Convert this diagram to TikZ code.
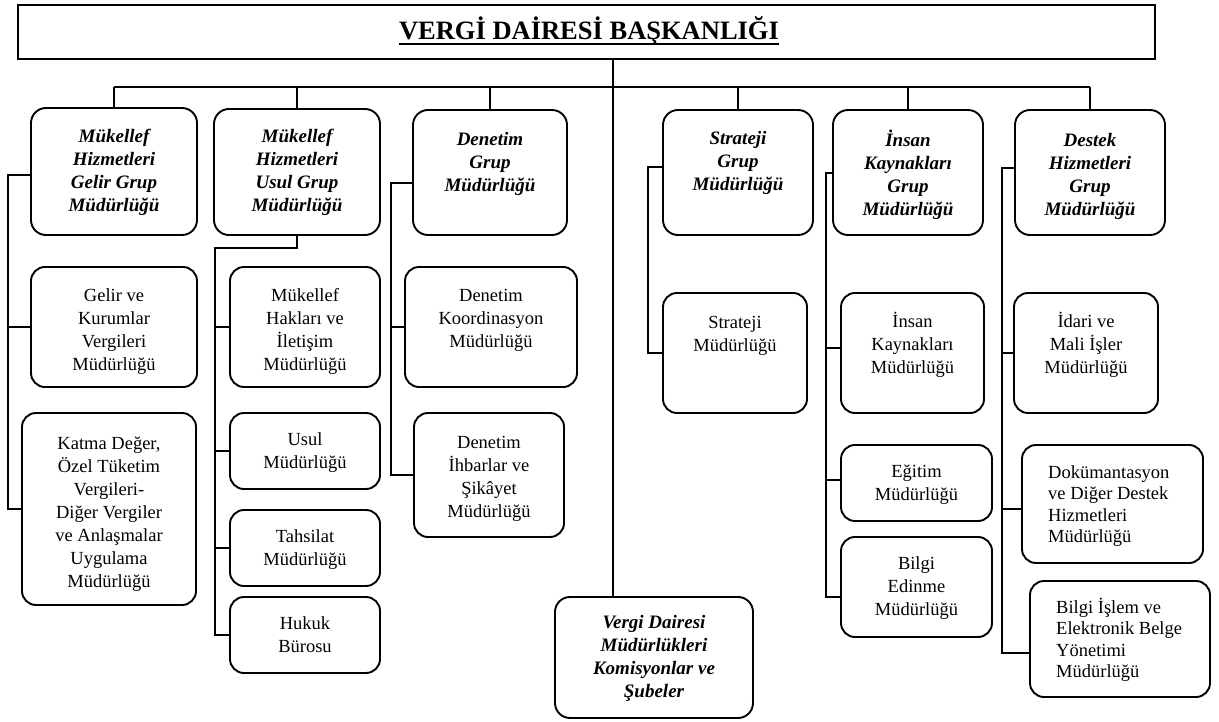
\documentclass[tikz,border=0pt]{standalone}
\usepackage{fontspec}
\setmainfont{Liberation Serif}
\usetikzlibrary{calc}
% fixed height for the first line of every label
\newcommand{\fl}{\rule{0pt}{18pt}}
% \bx{name}{style}{x1}{y1}{x2}{y2}: a framed box given by its corners
\newcommand{\bx}[6]{\node[#2, minimum width={#5pt-#3pt}, minimum height={#6pt-#4pt}] (#1) at ({(#3+#5)/2},{(#4+#6)/2}) {};}
\tikzset{
  ln/.style={line width=2pt},
  grp/.style={draw, line width=1.9pt, rounded corners=15pt, inner sep=0pt},
  sub/.style={draw, line width=1.9pt, rounded corners=14pt, inner sep=0pt},
  gtxt/.style={anchor=north, inner sep=0pt, align=center, font=\fontsize{19}{23}\selectfont\bfseries\itshape},
  stxt/.style={anchor=north, inner sep=0pt, align=center, font=\fontsize{18.5}{23}\selectfont},
  ltxt/.style={anchor=north west, inner sep=0pt, align=left, font=\fontsize{18.5}{21.5}\selectfont},
}
\begin{document}
\begin{tikzpicture}[x=1pt, y=-1pt]
\useasboundingbox[fill=white] (0,0) rectangle (1219,722);

% head office
\node[draw, line width=1.9pt, inner sep=0pt, minimum width=1137pt, minimum height=54pt] (title) at (586.5,32) {};
\node[anchor=base, inner sep=0pt, font=\fontsize{26.5}{30}\selectfont\bfseries] (tt) at (589,40) {VERGİ DAİRESİ BAŞKANLIĞI};
\draw[line width=1.7pt] ([yshift=-4pt]tt.base west) -- ([yshift=-4pt]tt.base east);

% group directorates
\bx{g1}{grp}{31}{108}{197}{235}
\bx{g2}{grp}{214}{109}{380}{235}
\bx{g3}{grp}{413}{110}{567}{235}
\bx{g4}{grp}{663}{110}{813}{235}
\bx{g5}{grp}{833}{110}{983}{235}
\bx{g6}{grp}{1015}{110}{1165}{235}
\node[gtxt] (g1t) at (114,124) {\fl Mükellef\\Hizmetleri\\Gelir Grup\\Müdürlüğü};
\node[gtxt] (g2t) at (297,124) {\fl Mükellef\\Hizmetleri\\Usul Grup\\Müdürlüğü};
\node[gtxt] (g3t) at (490,127) {\fl Denetim\\Grup\\Müdürlüğü};
\node[gtxt] (g4t) at (738,126) {\fl Strateji\\Grup\\Müdürlüğü};
\node[gtxt] (g5t) at (908,128) {\fl İnsan\\Kaynakları\\Grup\\Müdürlüğü};
\node[gtxt] (g6t) at (1090,128) {\fl Destek\\Hizmetleri\\Grup\\Müdürlüğü};

% tax offices
\bx{vdm}{grp}{555}{597}{753}{718}
\node[gtxt] (vdmt) at (654,610) {\fl Vergi Dairesi\\Müdürlükleri\\Komisyonlar ve\\Şubeler};

% departments
\bx{c1a}{sub}{31}{267}{197}{387}
\bx{c1b}{sub}{22}{413}{196}{605}
\bx{c2a}{sub}{230}{267}{380}{387}
\bx{c2b}{sub}{230}{413}{380}{489}
\bx{c2c}{sub}{230}{510}{380}{586}
\bx{c2d}{sub}{230}{597}{380}{673}
\bx{c3a}{sub}{405}{267}{577}{387}
\bx{c3b}{sub}{414}{413}{564}{537}
\bx{c4a}{sub}{663}{293}{807}{413}
\bx{c5a}{sub}{841}{293}{984}{413}
\bx{c5b}{sub}{841}{445}{992}{521}
\bx{c5c}{sub}{841}{537}{992}{637}
\bx{c6a}{sub}{1014}{293}{1158}{413}
\bx{c6b}{sub}{1022}{445}{1203}{563}
\bx{c6c}{sub}{1030}{581}{1210}{697}

\node[stxt] (c1at) at (114,283) {\fl Gelir ve\\Kurumlar\\Vergileri\\Müdürlüğü};
\node[stxt] (c1bt) at (109,431) {\fl Katma Değer,\\Özel Tüketim\\Vergileri-\\Diğer Vergiler\\ve Anlaşmalar\\Uygulama\\Müdürlüğü};
\node[stxt] (c2at) at (305,283) {\fl Mükellef\\Hakları ve\\İletişim\\Müdürlüğü};
\node[stxt] (c2bt) at (305,427) {\fl Usul\\Müdürlüğü};
\node[stxt] (c2ct) at (305,524) {\fl Tahsilat\\Müdürlüğü};
\node[stxt] (c2dt) at (305,611) {\fl Hukuk\\Bürosu};
\node[stxt] (c3at) at (491,283) {\fl Denetim\\Koordinasyon\\Müdürlüğü};
\node[stxt] (c3bt) at (489,430) {\fl Denetim\\İhbarlar ve\\Şikâyet\\Müdürlüğü};
\node[stxt] (c4at) at (735,310) {\fl Strateji\\Müdürlüğü};
\node[stxt] (c5at) at (912.5,309) {\fl İnsan\\Kaynakları\\Müdürlüğü};
\node[stxt] (c5bt) at (916.5,459) {\fl Eğitim\\Müdürlüğü};
\node[stxt] (c5ct) at (916.5,551) {\fl Bilgi\\Edinme\\Müdürlüğü};
\node[stxt] (c6at) at (1086,309) {\fl İdari ve\\Mali İşler\\Müdürlüğü};
\node[ltxt] (c6bt) at (1048,460) {\fl Dokümantasyon\\ve Diğer Destek\\Hizmetleri\\Müdürlüğü};
\node[ltxt] (c6ct) at (1056,595) {\fl Bilgi İşlem ve\\Elektronik Belge\\Yönetimi\\Müdürlüğü};

% main trunk and bus
\coordinate (bus) at (613,87);
\draw[ln] (title.south -| bus) -- (vdm.north -| bus);
\draw[ln] (g1.north |- bus) -- (g6.north |- bus);
\foreach \g in {g1,g2,g3,g4,g5,g6} \draw[ln] (\g.north |- bus) -- (\g.north);

% rails from each group to its departments
\coordinate (r1) at (8,175);
\draw[ln] (g1.west |- r1) -- (r1) |- (c1b.west);
\draw[ln] (r1 |- c1a.west) -- (c1a.west);

\coordinate (r2) at (215,248);
\draw[ln] (g2.south) |- (r2) |- (c2d.west);
\foreach \c in {c2a,c2b,c2c} \draw[ln] (r2 |- \c.west) -- (\c.west);

\coordinate (r3) at (391,183);
\draw[ln] (g3.west |- r3) -- (r3) |- (c3b.west);
\draw[ln] (r3 |- c3a.west) -- (c3a.west);

\coordinate (r4) at (648,167);
\draw[ln] (g4.west |- r4) -- (r4) |- (c4a.west);

\coordinate (r5) at (826,173);
\draw[ln] (g5.west |- r5) -- (r5) |- ([yshift=-10pt]c5c.west);
\draw[ln] (r5 |- c5a.west) ++(0,-5) -- ([yshift=5pt]c5a.west);
\draw[ln] (r5 |- c5b.west) ++(0,-3) -- ([yshift=3pt]c5b.west);

\coordinate (r6) at (1002,168);
\draw[ln] (g6.west |- r6) -- (r6) |- ([yshift=-14pt]c6c.west);
\draw[ln] (r6 |- c6a.west) -- (c6a.west);
\draw[ln] (r6 |- c6b.west) ++(0,5) -- ([yshift=-5pt]c6b.west);
\end{tikzpicture}
\end{document}
